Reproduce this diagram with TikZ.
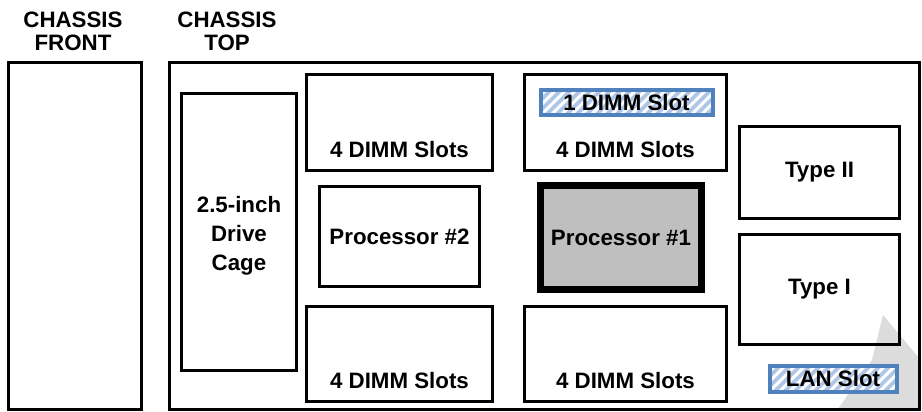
\documentclass[tikz,border=0pt]{standalone}
\usepackage{fontspec}
\setmainfont{Liberation Sans}
\usetikzlibrary{positioning}
\definecolor{chBlue}{RGB}{79,129,189}
\definecolor{chHatch}{RGB}{175,198,230}
\definecolor{chGray}{RGB}{191,191,191}
\definecolor{chMark}{RGB}{220,220,220}

\begin{document}
\begin{tikzpicture}[x=1pt, y=-1pt,
    box/.style={draw, line width=3pt, inner sep=0pt, outer sep=0pt},
    slotbox/.style={draw=chBlue, line width=4pt, inner sep=0pt, outer sep=0pt,
      path picture={
        \fill[chHatch] (path picture bounding box.south west) rectangle (path picture bounding box.north east);
        \foreach \s in {-40,-30,...,200}
          \draw[white, line width=3pt] ([xshift=\s pt]path picture bounding box.south west) -- ++(45,-45);
      }},
    lbl/.style={font=\fontsize{22.3}{23}\selectfont\bfseries, align=center, inner sep=0pt}]
  \useasboundingbox (0,0) rectangle (922,412);

  % faint mark behind the corner
  \fill[chMark] (883,315) -- (919,358) -- (919,409) -- (838,409) -- (872,360) -- cycle;

  % chassis outlines
  \node[box, minimum width=133pt, minimum height=347pt] (front) at (75,236) {};
  \node[box, minimum width=750pt, minimum height=347pt] (top) at (544.5,236) {};
  \node[lbl] (frontlbl) at (73,31.5) {CHASSIS\\FRONT};
  \node[lbl] (toplbl) at (227,31.5) {CHASSIS\\TOP};

  % drive cage
  \node[box, minimum width=115pt, minimum height=277pt] (cage) at (239,232) {};
  \node[lbl, font=\fontsize{22.3}{29}\selectfont\bfseries] at ([yshift=-4pt]cage.center) {2.5-inch\\Drive\\Cage};

  % memory banks
  \node[box, minimum width=186pt, minimum height=96pt] (dimmTL) at (399.5,122.5) {};
  \node[box, minimum width=186pt, minimum height=95pt] (dimmBL) at (399.5,354) {};
  \node[box, minimum width=202pt, minimum height=96pt] (dimmTR) at (625.5,122.5) {};
  \node[box, minimum width=202pt, minimum height=95pt] (dimmBR) at (625.5,354) {};
  \foreach \d in {dimmTL,dimmBL,dimmTR,dimmBR}
    \node[lbl] at ([yshift=20.5pt]\d.south) {4 DIMM Slots};

  \node[slotbox, minimum width=172pt, minimum height=25pt] (oneslot) at (626.5,103) {};
  \node[lbl] at (oneslot.center) {1 DIMM Slot};

  % processors
  \node[box, minimum width=160pt, minimum height=100pt] (proc2) at (399.5,236.5) {};
  \node[lbl] at (proc2.center) {Processor \#2};
  \node[box, fill=chGray, line width=7pt, minimum width=161pt, minimum height=104pt] (proc1) at (621,237.5) {};
  \node[lbl] at (proc1.center) {Processor \#1};

  % riser slots
  \node[box, minimum width=160pt, minimum height=92pt] (type2) at (819.5,172.5) {};
  \node[lbl] at (type2.center) {Type II};
  \node[box, minimum width=160pt, minimum height=110pt] (type1) at (819.5,289.5) {};
  \node[lbl] at (type1.center) {Type I};

  \node[slotbox, minimum width=127pt, minimum height=26pt] (lan) at (833,378.5) {};
  \node[lbl] at (lan.center) {LAN Slot};
\end{tikzpicture}
\end{document}
